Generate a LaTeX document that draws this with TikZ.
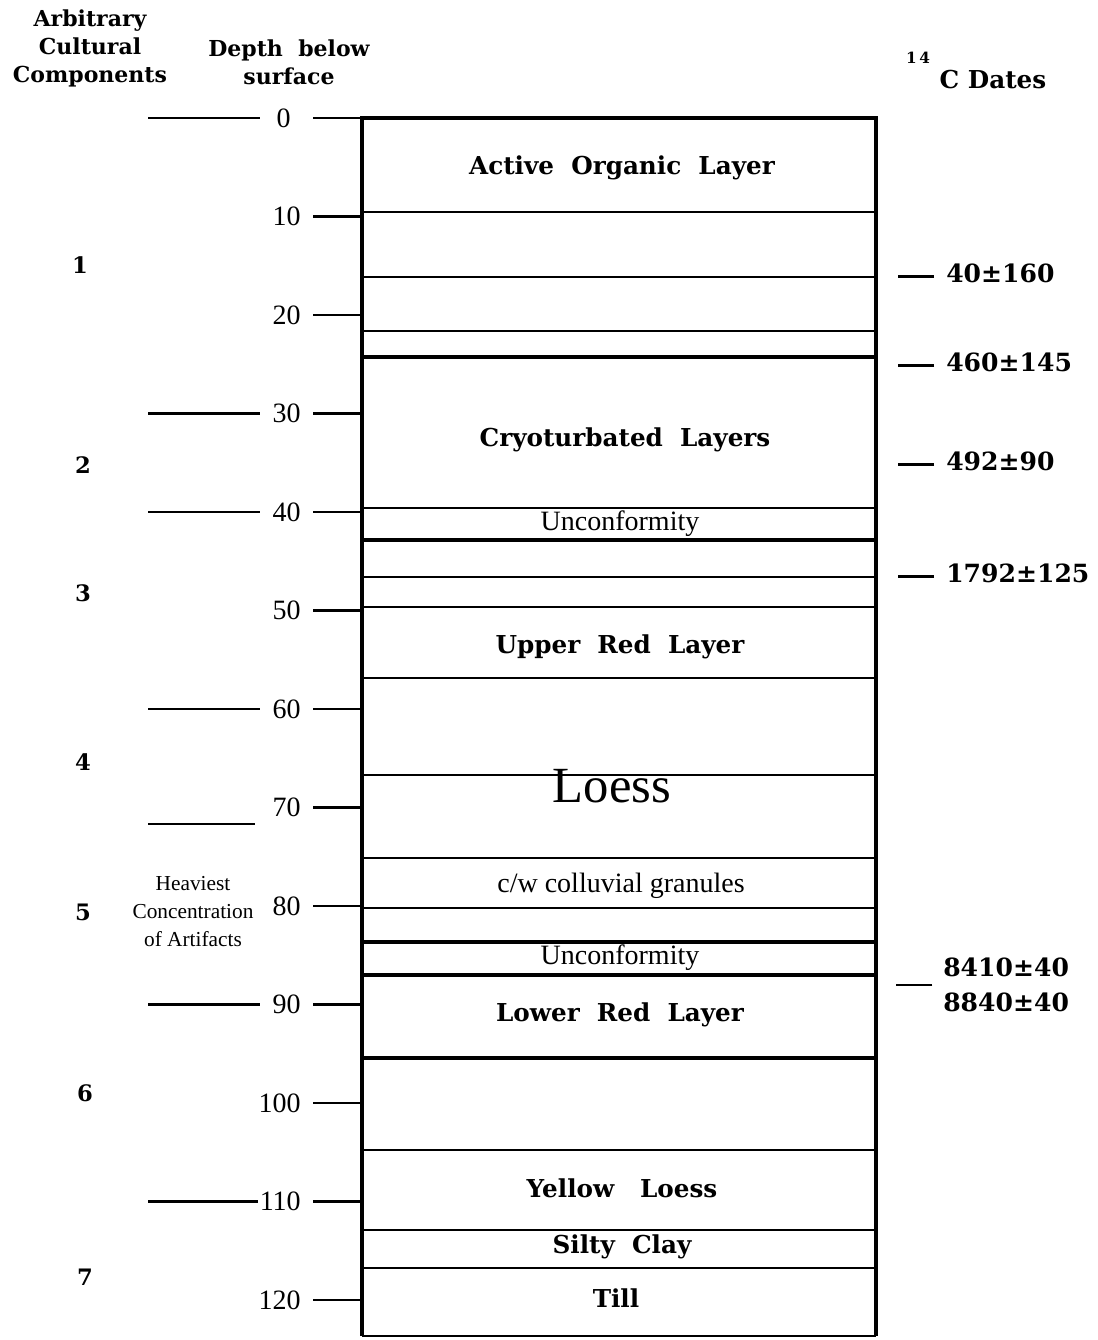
\documentclass[tikz,border=0pt]{standalone}
\usepackage{fontspec}
\setmainfont{Liberation Serif}
\newfontfamily\bk{DejaVu Serif}
\usetikzlibrary{positioning,calc}

\begin{document}
\begin{tikzpicture}[x=0.75pt,y=-0.75pt,
    hdr/.style={font=\bk\bfseries\fontsize{16.5}{21}\selectfont, align=center, inner sep=0pt},
    lyr/.style={font=\bk\bfseries\fontsize{18.5}{20}\selectfont, inner sep=0pt},
    txt/.style={font=\fontsize{21}{22}\selectfont, inner sep=0pt},
    depthnum/.style={font=\fontsize{21}{22}\selectfont, anchor=east, inner sep=0pt},
    compnum/.style={font=\bk\bfseries\fontsize{17}{18}\selectfont, inner sep=0pt},
    datelbl/.style={font=\bk\bfseries\fontsize{18.8}{26}\selectfont, anchor=west, inner sep=0pt, align=left},
    boxline/.style={line width=3.2pt},
    thinline/.style={line width=1.7pt},
    thickline/.style={line width=3pt},
    tick/.style={line width=2.2pt}]
    \useasboundingbox (0,0) rectangle (1098,1340);

    % Left and right edge of the soil column
    \def\xl{362}
    \def\xr{876}

    % Headers
    \node[hdr] (comphdr) at (90,48) {Arbitrary\\Cultural\\Components};
    \node[hdr] (depthhdr) at (289,62) {Depth~~below\\surface};
    \node[hdr, font=\bk\bfseries\fontsize{18.5}{20}\selectfont] (cdates) at (993,80) {C~Dates};
    \node[hdr, font=\bk\bfseries\fontsize{11.5}{12}\selectfont] (c14) at (918,58) {1\,4};

    % The column itself
    \coordinate (tl) at (\xl,118);
    \coordinate (tr) at (\xr,118);
    \coordinate (bl) at (\xl,1336);
    \coordinate (br) at (\xr,1336);
    \coordinate (tk) at (313,118); % where the depth ticks start
    \draw[boxline] (bl) -- (tl) -- (tr) -- (br);
    \draw[thinline] (bl) -- (br);

    % Layer boundaries
    \foreach \y in {212,277,331,508,577,607,678,775,858,908,1150,1230,1268}
        \draw[thinline] (\xl,\y) -- (\xr,\y);
    \foreach \y in {357,540,942,975,1058}
        \draw[thickline] (\xl,\y) -- (\xr,\y);

    % Layer names
    \node[lyr] (organic) at (622,168) {Active~~Organic~~Layer};
    \node[lyr] (cryo) at (625,440) {Cryoturbated~~Layers};
    \node[txt] (unconf1) at (620,524) {Unconformity};
    \node[lyr] (upperred) at (620,647) {Upper~~Red~~Layer};
    \node[txt, font=\fontsize{38}{40}\selectfont] (loess) at (612,786) {Loess};
    \node[txt] (colluv) at (621,886) {c/w colluvial granules};
    \node[txt] (unconf2) at (620,958) {Unconformity};
    \node[lyr] (lowerred) at (620,1015) {Lower~~Red~~Layer};
    \node[lyr] (yellow) at (622,1188) {Yellow~~~Loess};
    \node[lyr] (silty) at (622,1247) {Silty~~Clay};
    \node[lyr] (till) at (616,1298) {Till};

    % Depth scale with ticks to the column
    \foreach \d/\x in {0/291,10/301,20/301,30/301,40/301,50/301,60/301,70/301,80/301,90/301,100/301,110/301,120/301} {
        \pgfmathsetmacro{\yy}{118+9.85*\d}
        \node[depthnum] (d\d) at (\x,\yy) {\d};
        \draw[tick] (d\d.east -| tk) -- (d\d.east -| tl);
    }

    % Boundaries of the cultural components
    \foreach \d/\g in {0/12,30/9,40/9,60/9,90/9,110/1} {
        \coordinate (cl\d) at (148,{118+9.85*\d});
        \draw[tick] (cl\d) -- ([xshift=-\g pt]d\d.west);
    }
    \coordinate (cl72) at (148,824);
    \coordinate (cr72) at (255,824);
    \draw[tick] (cl72) -- (cr72);

    % Component numbers
    \node[compnum] (k1) at (80,265) {1};
    \node[compnum] (k2) at (83,465) {2};
    \node[compnum] (k3) at (83,593) {3};
    \node[compnum] (k4) at (83,762) {4};
    \node[compnum] (k5) at (83,912) {5};
    \node[compnum] (k6) at (85,1093) {6};
    \node[compnum] (k7) at (85,1277) {7};
    \node[txt, font=\fontsize{16}{21}\selectfont, align=center] (heavy) at (193,912) {Heaviest\\Concentration\\of Artifacts};

    % Radiocarbon dates
    \node[datelbl] (r1) at (946,273) {40±160};
    \node[datelbl] (r2) at (946,362) {460±145};
    \node[datelbl] (r3) at (946,461) {492±90};
    \node[datelbl] (r4) at (946,573) {1792±125};
    \node[datelbl] (r5) at (943,985) {8410±40\\8840±40};
    \foreach \r in {r1,r2,r3,r4}
        \draw[tick] ([shift={(-9pt,-2.5pt)}]\r.west) -- ++(-36,0);
    \draw[tick] ([xshift=-8pt]r5.west) -- ++(-36,0);
\end{tikzpicture}
\end{document}
